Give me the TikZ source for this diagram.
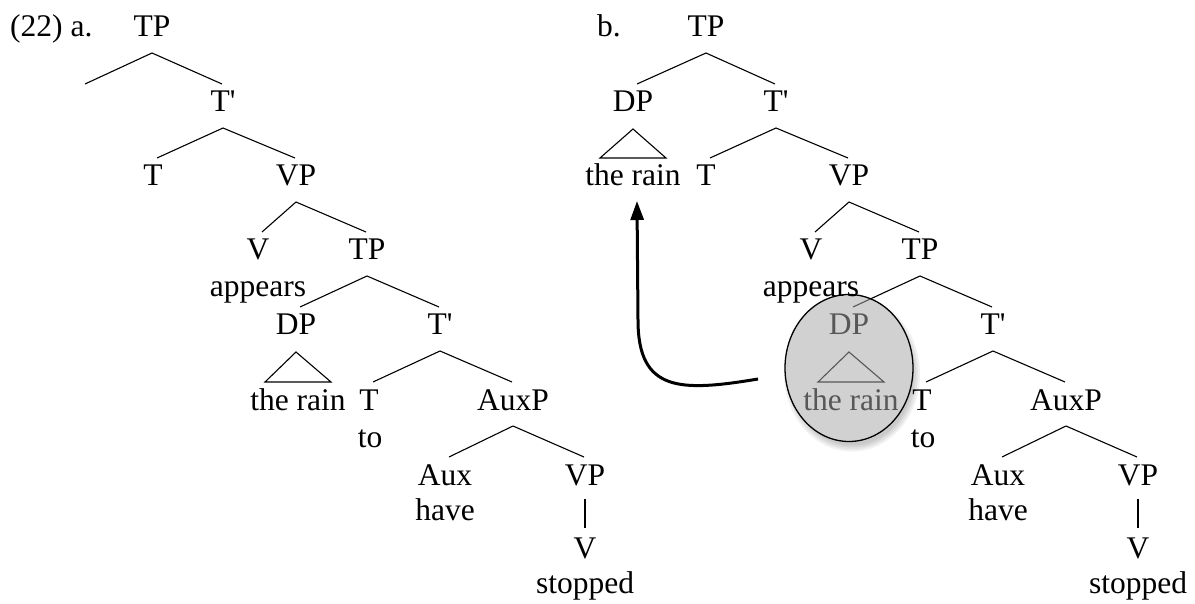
\documentclass[tikz,border=0pt]{standalone}
\usepackage{fontspec}
\setmainfont{Liberation Serif}
\usetikzlibrary{shapes.geometric,arrows.meta}
\newcommand\brL[2]{\draw[edge] ([yshift=-16bp]#1.base) -- ([xshift=4bp,yshift=28bp]#2.base);}
\newcommand\brR[2]{\draw[edge] ([yshift=-16bp]#1.base) -- ([xshift=-1bp,yshift=28bp]#2.base);}
\newcommand\tri[2]{\draw[edge] ([yshift=-17bp]#1.base) -- ([xshift=-33bp,yshift=28bp]#2.base) -- ([xshift=33bp,yshift=28bp]#2.base) -- cycle;}
\newcommand\unary[2]{\draw[edge] ([yshift=-14bp]#1.base) -- ([yshift=30bp]#2.base);}
\begin{document}
\begin{tikzpicture}[x=1bp,y=-1bp,
  lab/.style={anchor=base,inner sep=0pt,font=\fontsize{31.5bp}{36bp}\selectfont},
  edge/.style={line width=1.1bp},
  mvarrow/.style={line width=3bp,-{Triangle[length=19bp,width=13bp]}},
  hilite/.style={draw,ellipse,line width=1.3bp,minimum width=128bp,minimum height=147bp,inner sep=0pt,fill=black!34,fill opacity=0.52}]
\useasboundingbox (0,0) rectangle (1195,604);
\fill[white] (0,0) rectangle (1195,604);
% soft shadow of the highlight
\foreach \rx/\ry in {62/71.5,64/73.5,66/75.5,68/77.5}
  \fill[black,opacity=0.055] (852,374) ellipse [x radius=\rx bp, y radius=\ry bp];
\fill[white] (849,368) ellipse [x radius=64bp, y radius=73.5bp];
% labels
\node[lab,anchor=base west] (lblA) at (10,37) {(22) a.};
\node[lab,anchor=base west] (lblB) at (597,37) {b.};
% ---------- tree a ----------
\coordinate (aEmpty) at (85,84);
\node[lab] (aTP) at (152,37) {TP};
\node[lab] (aTb) at (223,112) {T\textquotesingle};
\node[lab] (aT) at (153,186) {T};
\node[lab] (aVP) at (296,186) {VP};
\node[lab] (aV) at (258,260) {V};
\node[lab] (aappears) at (258,297) {appears};
\node[lab] (aTP2) at (367,260) {TP};
\node[lab] (aDP) at (296,335) {DP};
\node[lab] (aTb2) at (440,335) {T\textquotesingle};
\node[lab] (arain) at (298,410) {the rain};
\node[lab] (aT2) at (369,410) {T};
\node[lab] (ato) at (370,447) {to};
\node[lab] (aAuxP) at (513,410) {AuxP};
\node[lab] (aAux) at (445,485) {Aux};
\node[lab] (ahave) at (445,520) {have};
\node[lab] (aVP2) at (585,485) {VP};
\node[lab] (aV2) at (585,558) {V};
\node[lab] (astopped) at (585,593) {stopped};
\draw[edge] ([yshift=-16bp]aTP.base) -- (aEmpty);
\brR{aTP}{aTb}
\brL{aTb}{aT}
\brR{aTb}{aVP}
\brL{aVP}{aV}
\brR{aVP}{aTP2}
\brL{aTP2}{aDP}
\brR{aTP2}{aTb2}
\tri{aDP}{arain}
\brL{aTb2}{aT2}
\brR{aTb2}{aAuxP}
\brL{aAuxP}{aAux}
\brR{aAuxP}{aVP2}
\unary{aVP2}{aV2}
% ---------- tree b ----------
\node[lab] (bTP) at (706,37) {TP};
\node[lab] (bDP) at (633,112) {DP};
\node[lab] (brainTop) at (633,186) {the rain};
\node[lab] (bTb) at (776,112) {T\textquotesingle};
\node[lab] (bT) at (706,186) {T};
\node[lab] (bVP) at (849,186) {VP};
\node[lab] (bV) at (811,260) {V};
\node[lab] (bTP2) at (920,260) {TP};
\node[lab] (bDP2) at (849,335) {DP};
\node[lab] (bTb2) at (993,335) {T\textquotesingle};
\node[lab] (brain) at (851,410) {the rain};
\node[lab] (bT2) at (922,410) {T};
\node[lab] (bto) at (923,447) {to};
\node[lab] (bAuxP) at (1066,410) {AuxP};
\node[lab] (bAux) at (998,485) {Aux};
\node[lab] (bhave) at (998,520) {have};
\node[lab] (bVP2) at (1138,485) {VP};
\node[lab] (bV2) at (1138,558) {V};
\node[lab] (bstopped) at (1138,593) {stopped};
\brL{bTP}{bDP}
\brR{bTP}{bTb}
\tri{bDP}{brainTop}
\brL{bTb}{bT}
\brR{bTb}{bVP}
\brL{bVP}{bV}
\brR{bVP}{bTP2}
\brL{bTP2}{bDP2}
\brR{bTP2}{bTb2}
\tri{bDP2}{brain}
\brL{bTb2}{bT2}
\brR{bTb2}{bAuxP}
\brL{bAuxP}{bAux}
\brR{bAuxP}{bVP2}
\unary{bVP2}{bV2}
% highlight over the moved DP
\node[hilite] (hl) at (849,368) {};
\node[lab] (bappears) at (811,297) {appears};
% movement arrow
\coordinate (mvS) at (758,379);
\coordinate (mvE) at (637,201);
\draw[mvarrow] (mvS) .. controls (680,392) and (638,392) .. (638,320) -- (mvE);
\end{tikzpicture}
\end{document}
